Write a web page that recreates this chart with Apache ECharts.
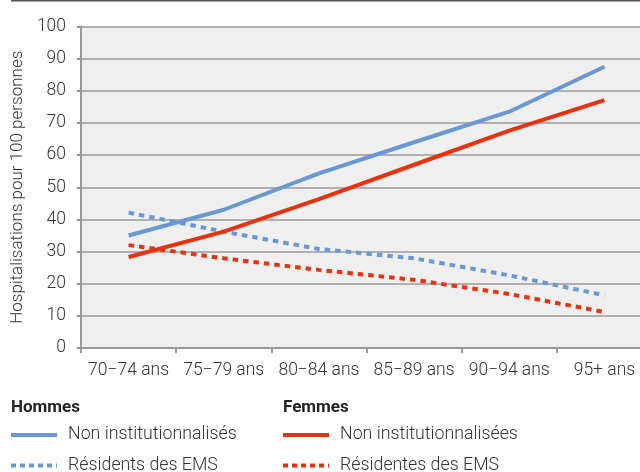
<!DOCTYPE html>
<html><head><meta charset="utf-8">
<script src="https://cdn.jsdelivr.net/npm/echarts@6/dist/echarts.min.js"></script>
<style>html,body{margin:0;padding:0;background:#fff;}#c{width:640px;height:472px;}</style>
</head><body><div id="c"></div>
<script>
const categories = ['70\u221274 ans','75\u221279 ans','80\u221284 ans','85\u221289 ans','90\u221294 ans','95+ ans'];
const hommesNonInst = [35, 43, 54.3, 64, 73.5, 87.5];
const femmesNonInst = [28.3, 36.2, 46.3, 57, 67.6, 77.1];
const hommesEMS = [42.1, 36.2, 30.8, 27.9, 22.6, 16.4];
const femmesEMS = [32, 27.9, 24.3, 21.2, 16.8, 11.2];
const yTicks = [0,10,20,30,40,50,60,70,80,90,100];
const legendGroups = ['Hommes','Femmes'];
const legendLabels = [['Non institutionnalisés','Résidents des EMS'],['Non institutionnalisées','Résidentes des EMS']];

const BLUE = '#6a98d2', RED = '#e8320f';
const FONT = 'Roboto';
const chart = echarts.init(document.getElementById('c'));
function mk(name, data, color, dotted){
  return {name, type:'line', data, symbol:'none', smooth:false, z: dotted?2:3,
    lineStyle:{color, width:4, type: dotted?[5.5,5]:'solid', cap:'butt'}};
}
const graphic = [
  {type:'line', shape:{x1:11,y1:0.5,x2:640,y2:0.5}, style:{stroke:'#555',lineWidth:2}}
];
const cols = [11, 283];
const colors = [BLUE, RED];
legendGroups.forEach((g,i)=>{
  graphic.push({type:'text', x:cols[i], y:408, style:{text:g, font:'bold 17px '+FONT, fill:'#222', verticalAlign:'middle'}});
  legendLabels[i].forEach((t,j)=>{
    const y = 435 + j*30.5;
    graphic.push({type:'line', shape:{x1:cols[i],y1:y,x2:cols[i]+46,y2:y},
      style:{stroke:colors[i], lineWidth:4, lineDash: j===1?[5,4]:null}});
    graphic.push({type:'text', x:cols[i]+57, y:y, style:{text:t, font:'300 17.8px '+FONT, fill:'#333', verticalAlign:'middle'}});
  });
});
chart.setOption({
  animation:false,
  textStyle:{fontFamily:FONT},
  grid:{left:81, width:571, top:26.5, height:321.5, outerBoundsMode:'none', containLabel:false,
    backgroundColor:'#efefef', show:true, borderWidth:0},
  xAxis:{type:'category', data:categories, boundaryGap:true,
    axisLine:{lineStyle:{color:'#999', width:2}},
    axisTick:{show:true, length:5, lineStyle:{color:'#999', width:2}},
    axisLabel:{color:'#333', fontSize:17.5, fontWeight:300, margin:14, interval:0}},
  yAxis:{type:'value', min:yTicks[0], max:yTicks[yTicks.length-1], interval:10,
    name:'Hospitalisations pour 100 personnes', nameLocation:'middle', nameGap:55, nameRotate:90,
    nameTextStyle:{color:'#333', fontSize:17, fontWeight:300},
    axisLine:{show:true, lineStyle:{color:'#999', width:2}},
    axisTick:{show:true, length:4, lineStyle:{color:'#999', width:2}},
    axisLabel:{color:'#333', fontSize:17.5, fontWeight:300, margin:15},
    splitLine:{lineStyle:{color:'#b0b0b0', width:2}}},
  series:[
    mk('Hommes non inst', hommesNonInst, BLUE, false),
    mk('Femmes non inst', femmesNonInst, RED, false),
    mk('Hommes EMS', hommesEMS, BLUE, true),
    mk('Femmes EMS', femmesEMS, RED, true)
  ],
  graphic
});
</script></body></html>
